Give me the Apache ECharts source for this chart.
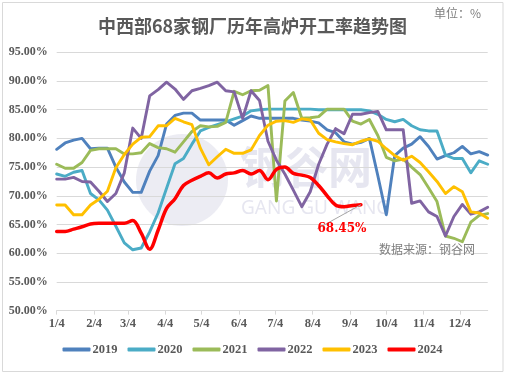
<!DOCTYPE html>
<html>
<head>
<meta charset="utf-8">
<script src="https://cdn.jsdelivr.net/npm/echarts@6/dist/echarts.min.js"></script>
<style>
html,body{margin:0;padding:0;background:#fff;}
#main{width:505px;height:374px;}
</style>
</head>
<body>
<div id="main"></div>
<script>
// weekly sample dates (shared x for every year)
const weeks = ['1/4','1/11','1/18','1/25','2/1','2/8','2/15','2/22','3/1','3/8','3/15','3/22','3/29',
  '4/5','4/12','4/19','4/26','5/3','5/10','5/17','5/24','5/31','6/7','6/14','6/21','6/28',
  '7/5','7/12','7/19','7/26','8/2','8/9','8/16','8/23','8/30','9/6','9/13','9/20','9/27',
  '10/4','10/11','10/18','10/25','11/1','11/8','11/15','11/22','11/29','12/6','12/13','12/20','12/27'];
const tickLabels = ['1/4','2/4','3/4','4/4','5/4','6/4','7/4','8/4','9/4','10/4','11/4','12/4'];
const legendNames = ['2019','2020','2021','2022','2023','2024'];

const y2019 = [78.1,79.2,79.7,80.0,78.2,78.3,78.3,75.0,72.4,70.6,70.6,74.3,77.0,82.5,84.0,84.4,84.4,83.2,
  83.2,83.2,83.2,82.3,83.1,83.9,83.5,83.5,83.5,83.5,83.5,83.2,83.0,82.7,81.5,81.0,79.4,79.0,79.3,80.0,
  73.5,66.7,77.0,78.3,79.0,80.3,78.6,76.4,77.0,77.5,78.6,77.3,77.7,77.1];
const y2020 = [73.8,73.4,74.1,74.4,70.4,69.3,67.5,64.7,61.8,60.6,60.9,63.7,67.0,71.3,75.6,76.5,79.0,81.3,
  81.9,82.4,82.9,83.4,83.9,84.8,85.0,85.1,85.1,85.1,85.1,85.1,85.1,85.0,85.0,85.0,85.0,85.0,85.0,84.8,
  84.2,83.3,82.9,83.3,82.2,81.5,81.3,81.3,77.1,76.5,76.5,74.0,76.1,75.5];
const y2021 = [75.5,74.8,74.8,75.8,77.9,78.2,78.2,78.2,77.3,77.3,77.5,79.1,78.4,78.2,77.6,79.4,81.2,82.2,
  82.0,82.1,82.8,88.2,87.6,88.3,88.4,89.2,69.1,86.5,88.0,83.5,83.6,83.8,85.1,85.1,85.1,83.0,82.5,83.3,
  80.5,76.7,76.1,76.4,75.0,73.7,71.4,69.0,63.0,62.6,62.0,65.4,66.6,66.9];
const y2022 = [72.9,72.9,73.2,72.5,72.4,70.8,69.0,70.4,74.0,81.8,80.0,87.4,88.5,89.8,88.6,86.8,88.3,88.7,
  89.2,89.8,88.3,88.1,83.5,88.3,86.6,79.5,76.2,73.8,71.0,68.1,70.7,75.5,79.0,81.7,80.8,84.2,84.2,84.5,
  84.7,81.5,81.5,81.5,68.7,69.1,67.2,66.4,63.0,66.4,68.5,66.8,67.2,68.0];
const y2023 = [68.4,68.4,66.7,66.7,68.4,69.4,70.8,74.9,77.2,79.0,80.2,80.3,82.2,82.2,83.5,82.9,82.4,78.3,
  75.4,76.8,78.1,77.4,77.4,78.0,80.5,82.3,83.0,83.1,82.8,83.4,83.2,80.9,79.8,79.4,79.1,78.9,79.5,79.9,
  79.5,78.2,77.0,76.2,76.9,75.8,74.2,72.5,70.4,71.6,70.7,67.2,67.0,66.1];
const y2024 = [63.8,63.8,64.2,64.6,65.1,65.2,65.2,65.2,65.2,65.7,63.5,60.7,64.0,67.8,69.5,71.8,72.7,73.4,
  74.0,73.1,73.8,74.0,74.4,73.8,74.4,72.8,74.6,75.0,73.9,73.6,73.2,71.8,70.0,68.4,68.1,68.3,68.45];

const colors = ['#4F81BD','#4BACC6','#9BBB59','#8064A2','#FFC000','#FF0000'];

// day-level category axis so month labels sit on the 4th of each month
const days = [];
for (let i = 0; i <= 357; i++) {
  const d = new Date(2023, 0, 4 + i);
  days.push((d.getMonth() + 1) + '/' + d.getDate());
}
const isTick = (idx, val) => tickLabels.indexOf(val) >= 0;

function pairs(arr) { return arr.map((v, i) => [weeks[i], v]); }

const allY = [y2019, y2020, y2021, y2022, y2023, y2024];
const series = allY.map((arr, k) => {
  const isLast = k === 5;
  const data = pairs(arr);
  if (isLast) {
    const li = data.length - 1;
    data[li] = {
      value: data[li],
      label: { show: true, position: 'bottom', formatter: '68.45%', color: '#FF0000',
        fontWeight: 'bold', fontSize: 12, fontFamily: 'DejaVu Serif' }
    };
  }
  return {
    name: legendNames[k],
    type: 'line',
    data: data,
    smooth: isLast ? 0.35 : false,
    symbol: 'circle',
    symbolSize: 0,
    showSymbol: isLast,
    showAllSymbol: true,
    lineStyle: { width: isLast ? 3.5 : 2.9, color: colors[k], cap: 'round', join: 'round' },
    itemStyle: { color: colors[k] },
    z: 2 + k,
    silent: true,
    labelLayout: isLast ? function (p) { return p.dataIndex === arr.length - 1 ? { dx: -19, dy: 13 } : {}; } : undefined,
    labelLine: isLast ? { show: true, lineStyle: { color: '#A6A6A6', width: 1 } } : undefined
  };
});

const chart = echarts.init(document.getElementById('main'), null, { renderer: 'canvas' });
chart.setOption({
  animation: false,
  color: colors,
  title: [
    { text: '中西部68家钢厂历年高炉开工率趋势图', left: 'center', top: 12,
      textStyle: { fontSize: 18, fontWeight: 'bold', color: '#595959', fontFamily: 'Noto Sans CJK SC' } },
    { text: '单位：%', right: 19, top: 2,
      textStyle: { fontSize: 12, fontWeight: 'normal', color: '#7F7F7F', fontFamily: 'Noto Sans CJK SC' } },
    { text: '数据来源：钢谷网', left: 374, top: 238,
      textStyle: { fontSize: 12, fontWeight: 'normal', color: '#7F7F7F', fontFamily: 'Noto Sans CJK SC' } }
  ],
  graphic: [
    { type: 'rect', shape: { x: 2.5, y: 2.5, width: 500.5, height: 369 }, style: { fill: 'none', stroke: '#D9D9D9', lineWidth: 1 }, z: -10, silent: true },
    { type: 'circle', shape: { cx: 182, cy: 180, r: 46 }, style: { fill: '#DCDCEA', opacity: 0.55 }, z: -5, silent: true },
    { type: 'text', style: { x: 240, y: 145, text: '钢谷网', fill: '#DCDCEA', opacity: 0.7, fontSize: 44, fontFamily: 'Noto Sans CJK SC', fontWeight: 'bold' }, z: -5, silent: true },
    { type: 'text', style: { x: 241, y: 199, text: 'GANG GU WANG', fill: '#DCDCEA', opacity: 0.7, fontSize: 19, fontFamily: 'Noto Sans' }, z: -5, silent: true }
  ],
  legend: {
    data: legendNames,
    bottom: 13,
    left: 'center',
    icon: 'roundRect',
    itemWidth: 28,
    itemHeight: 4,
    itemGap: 10,
    textStyle: { fontSize: 12.5, fontWeight: 'bold', color: '#595959', fontFamily: 'Liberation Serif', padding: [0, 0, 0, -3] }
  },
  grid: { left: 56.7, right: 17.3, top: 52.3, bottom: 63.4, containLabel: false },
  xAxis: {
    type: 'category',
    data: days,
    boundaryGap: false,
    axisLine: { lineStyle: { color: '#D9D9D9', width: 1 } },
    axisTick: { show: true, interval: isTick, length: 4, lineStyle: { color: '#D9D9D9' } },
    axisLabel: { interval: isTick, color: '#595959', fontSize: 12.5, fontWeight: 'bold', margin: 7, fontFamily: 'Liberation Serif' },
    splitLine: { show: false }
  },
  yAxis: {
    type: 'value',
    min: 50, max: 95, interval: 5,
    axisLine: { show: false },
    axisTick: { show: false },
    axisLabel: { formatter: v => v.toFixed(2) + '%', color: '#595959', fontSize: 12, fontWeight: 'bold', margin: 9, fontFamily: 'Liberation Serif' },
    splitLine: { lineStyle: { color: '#D9D9D9', width: 1 } }
  },
  series: series
});
</script>
</body>
</html>
